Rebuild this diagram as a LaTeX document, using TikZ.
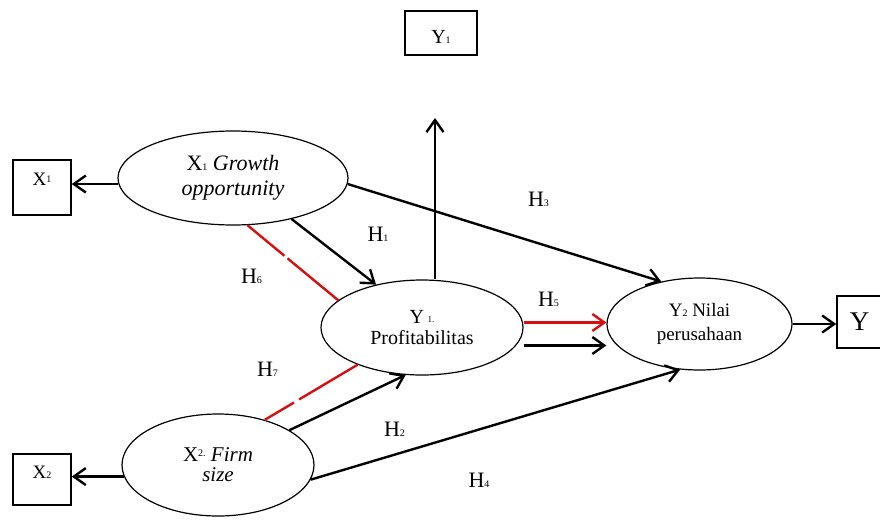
\documentclass[tikz,border=0pt]{standalone}
\usepackage{fontspec}
\setmainfont{Liberation Serif}
\usetikzlibrary{arrows.meta,shapes.geometric}
\definecolor{hred}{RGB}{214,16,16}
\newcommand\smalld[1]{{\fontsize{10}{10}\selectfont #1}}
\begin{document}
\begin{tikzpicture}[x=1pt,y=-1pt,
 ell/.style={draw, ellipse, line width=1.2pt, inner sep=0pt, align=center},
 bx/.style={draw, rectangle, line width=1.5pt, inner sep=0pt},
 arr/.style={line width=2.4pt, -{Straight Barb[length=12pt,width=17pt]}},
 redl/.style={line width=2.4pt, draw=hred},
 hlab/.style={font=\fontsize{22}{22}\selectfont, inner sep=0pt},
]
\useasboundingbox (0,0) rectangle (880,520);

% ellipses
\node[ell, minimum width=230pt, minimum height=94pt, font=\fontsize{22}{25}\selectfont] (x1) at (233,178)
  {X{\fontsize{10}{10}\selectfont 1} \textit{Growth}\\\textit{opportunity}};
\node[ell, minimum width=202pt, minimum height=95pt, font=\fontsize{20}{21}\selectfont] (y1) at (422,327.5)
  {Y\,\raisebox{1pt}{\fontsize{9}{9}\selectfont 1.}\\Profitabilitas};
\node[ell, minimum width=185pt, minimum height=92pt, font=\fontsize{19}{24}\selectfont] (y2) at (699.5,324)
  {Y{\fontsize{10}{10}\selectfont 2} Nilai\\perusahaan};
\node[ell, minimum width=192pt, minimum height=102pt, font=\fontsize{21}{20}\selectfont] (x2) at (218,465)
  {X\raisebox{5pt}{\fontsize{10}{10}\selectfont 2.} \textit{Firm}\\\textit{size}};

% boxes
\node[bx, minimum width=58pt, minimum height=55pt, font=\fontsize{19}{19}\selectfont] (bx1) at (42,187.5)
  {\raisebox{2.5pt}[0pt][0pt]{X\raisebox{3pt}{\smalld{1}}}};
\node[bx, minimum width=58pt, minimum height=51pt, font=\fontsize{19}{19}\selectfont] (bx2) at (42,479.5)
  {\raisebox{1.5pt}[0pt][0pt]{X\smalld{2}}};
\node[bx, minimum width=72pt, minimum height=44pt, font=\fontsize{20}{20}\selectfont] (by1) at (441,33)
  {\raisebox{-10pt}[0pt][0pt]{Y\smalld{1}}};
\node[bx, minimum width=45pt, minimum height=52pt, font=\fontsize{27}{27}\selectfont] (by) at (859.5,322)
  {\raisebox{-8pt}[0pt][0pt]{Y}};

\coordinate (uptip) at (435,118);
\coordinate (ylow) at ([yshift=-18pt]y1.east);
\coordinate (yhigh) at ([yshift=5pt]y1.east);

% black arrows
\draw[arr] (x1.183) -- (bx1.east |- x1.183);
\draw[arr] (x2.187) -- (bx2.east |- x2.187);
\draw[arr] (uptip |- y1.north) -- (uptip);
\draw[arr] (y2.east) -- (by.west |- y2.east);
\draw[arr] (x1.-35) -- (y1.137);
\draw[arr] (x1.-3) -- (y2.132);
\draw[arr] (x2.26) -- (y1.251);
\draw[arr] (x2.-9) -- (y2.247);
\draw[arr] (ylow) -- (y2.west |- ylow);
\draw[arr, hred] (yhigh) -- (y2.west |- yhigh);

% red lines
\draw[redl, dash pattern=on 48pt off 4pt on 200pt] (x1.-73) -- (y1.162);
\draw[redl, dash pattern=on 34pt off 6pt on 200pt] (x2.44) -- (y1.210);

% labels
\node[hlab] (h3) at (538.5,199) {H\smalld{3}};
\node[hlab] (h1) at (378,234.5) {H\smalld{1}};
\node[hlab] (h6) at (251.5,276) {H\smalld{6}};
\node[hlab] (h7) at (267.5,369.5) {H\smalld{7}};
\node[hlab] (h5) at (548.5,299) {H\smalld{5}};
\node[hlab] (h2) at (394.5,429) {H\smalld{2}};
\node[hlab] (h4) at (479,480) {H\smalld{4}};
\end{tikzpicture}
\end{document}
